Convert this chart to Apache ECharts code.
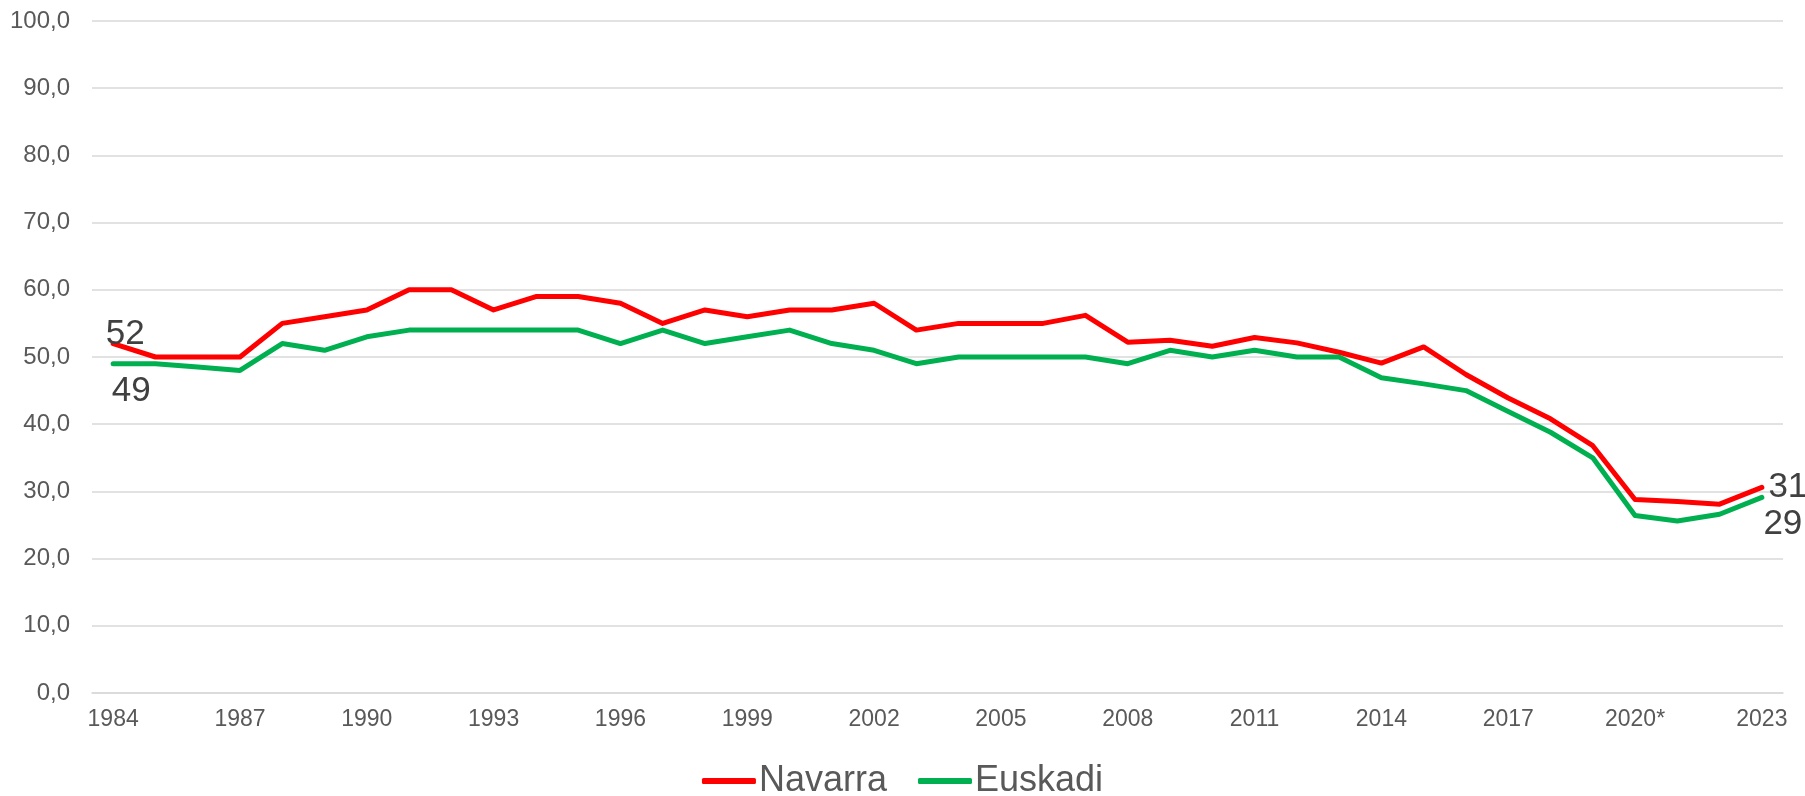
<!DOCTYPE html>
<html>
<head>
    <meta charset="UTF-8">
    <title></title>
    <style>
        html, body { margin: 0; padding: 0; background: #fff; }
        #container { width: 1805px; height: 796px; }
    </style>
</head>
<body>
    <div id="container"></div>
    <script src="https://cdn.jsdelivr.net/npm/echarts@6/dist/echarts.min.js"></script>
    <script type="text/javascript">
        // years on the x axis
        var years = ['1984', '1985', '1986', '1987', '1988', '1989', '1990', '1991', '1992', '1993',
            '1994', '1995', '1996', '1997', '1998', '1999', '2000', '2001', '2002', '2003',
            '2004', '2005', '2006', '2007', '2008', '2009', '2010', '2011', '2012', '2013',
            '2014', '2015', '2016', '2017', '2018', '2019', '2020*', '2021', '2022', '2023'];

        var navarra = [52, 50, 50, 50, 55, 56, 57, 60, 60, 57,
            59, 59, 58, 55, 57, 56, 57, 57, 58, 54,
            55, 55, 55, 56.2, 52.2, 52.5, 51.6, 52.9, 52.1, 50.7,
            49.1, 51.5, 47.4, 43.9, 40.8, 36.8, 28.8, 28.5, 28.1, 30.6];

        var euskadi = [49, 49, 48.5, 48, 52, 51, 53, 54, 54, 54,
            54, 54, 52, 54, 52, 53, 54, 52, 51, 49,
            50, 50, 50, 50, 49, 51, 50, 51, 50, 50,
            46.9, 46, 45, 41.9, 38.8, 35, 26.4, 25.6, 26.6, 29.1];

        var yTicks = { min: 0, max: 100, interval: 10 };

        var font = '"Liberation Sans", Arial, sans-serif';

        // only the first and last points carry a label
        function withEndLabels(values, firstOffset, lastOffset) {
            return values.map(function (v, i) {
                if (i === 0 || i === values.length - 1) {
                    return {
                        value: v,
                        label: {
                            show: true,
                            position: 'inside',
                            offset: i === 0 ? firstOffset : lastOffset
                        }
                    };
                }
                return v;
            });
        }

        function makeSeries(name, color, values, firstOffset, lastOffset) {
            return {
                name: name,
                type: 'line',
                data: withEndLabels(values, firstOffset, lastOffset),
                symbol: 'circle',
                symbolSize: 1,
                showSymbol: true,
                showAllSymbol: true,
                lineStyle: { color: color, width: 5, cap: 'round', join: 'round' },
                itemStyle: { color: color },
                label: {
                    show: false,
                    fontFamily: font,
                    fontSize: 35,
                    color: '#404040',
                    align: 'center',
                    verticalAlign: 'middle',
                    formatter: function (p) { return Math.round(p.value); }
                },
                emphasis: { disabled: true }
            };
        }

        var chart = echarts.init(document.getElementById('container'));
        chart.setOption({
            animation: false,
            grid: { left: 92, right: 22, top: 21, bottom: 103 },
            legend: {
                bottom: -8,
                left: 'center',
                itemWidth: 54,
                itemHeight: 6,
                itemGap: 31,
                textStyle: { fontFamily: font, fontSize: 36, color: '#595959', padding: [0, 0, 0, -2] },
                data: [
                    { name: 'Navarra', icon: 'roundRect' },
                    { name: 'Euskadi', icon: 'roundRect' }
                ]
            },
            xAxis: {
                type: 'category',
                data: years,
                boundaryGap: true,
                axisLine: { show: true, lineStyle: { color: '#d9d9d9', width: 1.5 } },
                axisTick: { show: false },
                axisLabel: {
                    interval: 2,
                    margin: 15,
                    fontFamily: font,
                    fontSize: 23,
                    color: '#595959'
                }
            },
            yAxis: {
                type: 'value',
                min: yTicks.min,
                max: yTicks.max,
                interval: yTicks.interval,
                axisLine: { show: false },
                axisTick: { show: false },
                splitLine: { lineStyle: { color: '#d9d9d9', width: 1.5 } },
                axisLabel: {
                    margin: 22,
                    fontFamily: font,
                    fontSize: 24,
                    color: '#595959',
                    formatter: function (v) { return v.toFixed(1).replace('.', ','); }
                }
            },
            series: [
                makeSeries('Navarra', '#ff0000', navarra, [12, -9], [26, 0]),
                makeSeries('Euskadi', '#00b050', euskadi, [18, 28], [21, 27])
            ]
        });
    </script>
</body>
</html>
